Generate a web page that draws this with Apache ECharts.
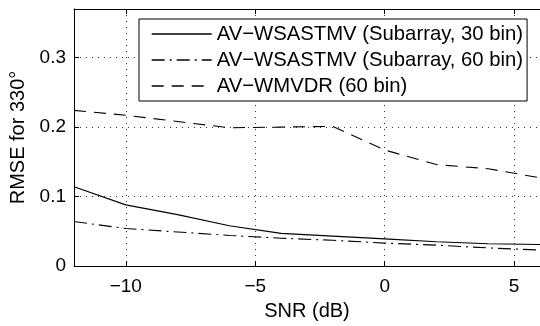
<!DOCTYPE html>
<html>
<head>
<meta charset="utf-8">
<script src="https://cdn.jsdelivr.net/npm/echarts@6/dist/echarts.min.js"></script>
<style>html,body{margin:0;padding:0;background:#fff;}#c{width:540px;height:326px;}</style>
</head>
<body>
<div id="c"></div>
<script>
var snr = [-12, -10, -8, -6, -4, -2, 0, 2, 4, 6];
var sub30 = [0.114, 0.088, 0.074, 0.058, 0.047, 0.043, 0.039, 0.035, 0.032, 0.031];
var sub60 = [0.064, 0.054, 0.049, 0.044, 0.040, 0.037, 0.033, 0.030, 0.026, 0.023];
var wmvdr = [0.224, 0.217, 0.208, 0.199, 0.200, 0.201, 0.167, 0.146, 0.140, 0.127];
var xTicks = [-10, -5, 0, 5];
var yTicks = [0, 0.1, 0.2, 0.3];
var names = ['AV\u2212WSASTMV (Subarray, 30 bin)', 'AV\u2212WSASTMV (Subarray, 60 bin)', 'AV\u2212WMVDR (60 bin)'];

function pairs(xs, ys) { return xs.map(function (x, i) { return [x, ys[i]]; }); }
var FONT = '"Liberation Sans", Arial, Helvetica, sans-serif';
var chart = echarts.init(document.getElementById('c'));
var dotted = { show: true, lineStyle: { color: '#333', width: 1, type: [1, 5] } };
function fmtX(v) { return v < 0 ? '\u2212' + Math.abs(v) : String(v); }
chart.setOption({
  animation: false,
  backgroundColor: '#fff',
  textStyle: { fontFamily: FONT },
  grid: { left: 73, top: 9, width: 468, bottom: 54, containLabel: false },
  legend: {
    orient: 'vertical', left: 139, top: 19,
    backgroundColor: '#fff', borderColor: '#000', borderWidth: 1, borderRadius: 0,
    padding: [5, 4, 5, 12], itemGap: 6, itemWidth: 60, itemHeight: 14,
    itemStyle: { opacity: 0 },
    lineStyle: { width: 1.4, color: '#000', opacity: 1 },
    textStyle: { fontSize: 20.3, color: '#000', fontFamily: FONT },
    data: names
  },
  xAxis: [{
    type: 'value', min: -12, max: 6, position: 'bottom',
    name: 'SNR (dB)', nameLocation: 'middle', nameGap: 35,
    nameTextStyle: { fontSize: 20, color: '#000', fontFamily: FONT },
    axisLine: { show: true, onZero: false, lineStyle: { color: '#000', width: 1 } },
    axisTick: { show: true, inside: true, length: 5, customValues: xTicks, lineStyle: { color: '#000' } },
    axisLabel: { customValues: xTicks, fontSize: 19, color: '#000', margin: 11, fontFamily: FONT, formatter: fmtX },
    splitLine: dotted
  }, {
    type: 'value', min: -12, max: 6, position: 'top',
    axisLine: { show: true, onZero: false, lineStyle: { color: '#000', width: 1 } },
    axisTick: { show: true, inside: true, length: 5, customValues: xTicks, lineStyle: { color: '#000' } },
    axisLabel: { show: false }, splitLine: { show: false }
  }],
  yAxis: [{
    type: 'value', min: 0, max: 0.37, interval: 0.1,
    name: 'RMSE for 330\u00b0', nameLocation: 'middle', nameGap: 46,
    nameTextStyle: { fontSize: 20, color: '#000', fontFamily: FONT },
    axisLine: { show: true, onZero: false, lineStyle: { color: '#000', width: 1 } },
    axisTick: { show: true, inside: true, length: 5, lineStyle: { color: '#000' } },
    axisLabel: { fontSize: 19, color: '#000', margin: 8, fontFamily: FONT,
      formatter: function (v) {
        for (var i = 0; i < yTicks.length; i++) { if (Math.abs(v - yTicks[i]) < 1e-9) return String(yTicks[i]); }
        return '';
      } },
    splitLine: dotted
  }],
  series: [
    { name: names[0], type: 'line', data: pairs(snr, sub30), symbol: 'none',
      lineStyle: { color: '#000', width: 1.1, type: 'solid' }, itemStyle: { color: '#000' } },
    { name: names[1], type: 'line', data: pairs(snr, sub60), symbol: 'none',
      lineStyle: { color: '#000', width: 1.1, type: [13, 5, 2, 5] }, itemStyle: { color: '#000' } },
    { name: names[2], type: 'line', data: pairs(snr, wmvdr), symbol: 'none',
      lineStyle: { color: '#000', width: 1.1, type: [12, 8] }, itemStyle: { color: '#000' } }
  ]
});
</script>
</body>
</html>
